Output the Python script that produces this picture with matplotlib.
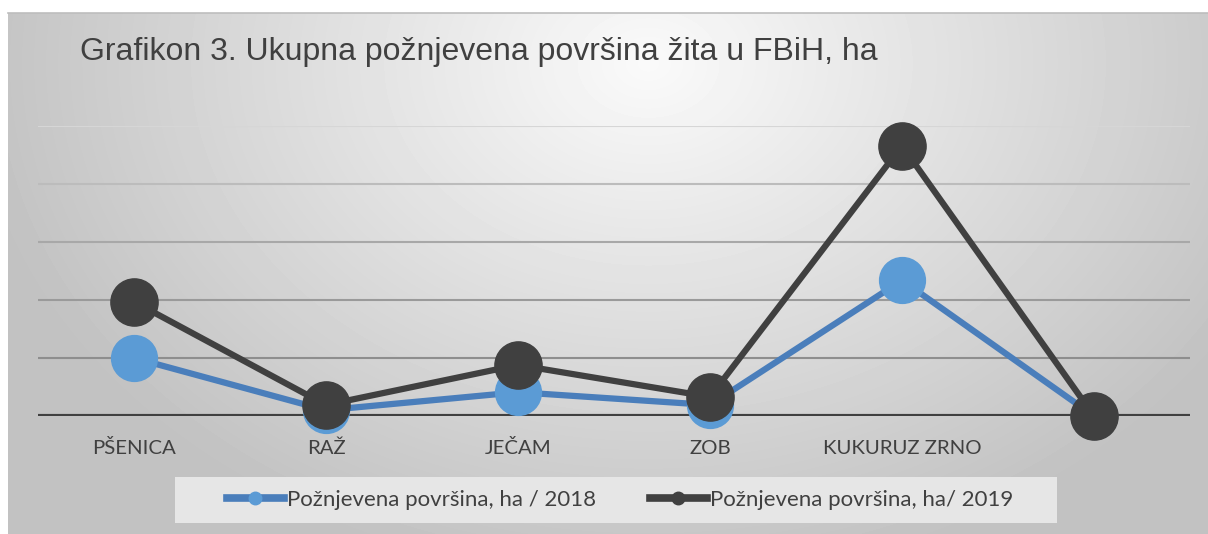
import numpy as np
import matplotlib
matplotlib.use("Agg")
import matplotlib.pyplot as plt
from matplotlib.lines import Line2D
from matplotlib.patches import Rectangle

# podaci (ha, procjena sa grafikona)
kategorije = ["PŠENICA", "RAŽ", "JEČAM", "ZOB", "KUKURUZ ZRNO", ""]
povrsina_2018 = [10000, 1000, 4100, 1900, 23400, 0]
povrsina_2019 = [19700, 1900, 8800, 3300, 46600, 0]
naslov = "Grafikon 3. Ukupna požnjevena površina žita u FBiH, ha"
legenda = ["Požnjevena površina, ha / 2018", "Požnjevena površina, ha/ 2019"]

W, H = 1208, 534
fig = plt.figure(figsize=(W / 100, H / 100), dpi=100)
fig.patch.set_facecolor("white")

# pozadina - radijalni gradijent
bg = fig.add_axes([8 / W, 0, 1 - 8 / W, (H - 13) / H])
yy, xx = np.mgrid[0:521, 0:1200]
d = np.sqrt(((xx - 640) / 680.0) ** 2 + ((yy - 50) / 520.0) ** 2)
d = np.clip(d, 0, 1)
shade = 0.98 - 0.22 * d
bg.imshow(shade, cmap="gray", vmin=0, vmax=1, aspect="auto", extent=[0, 1, 0, 1])
bg.set_xlim(0, 1)
bg.set_ylim(0, 1)
bg.axis("off")
fig.add_artist(Line2D([8 / W, 1], [(H - 13) / H] * 2, color="#bdbdbd", lw=1.2))

ax = fig.add_axes([38 / W, (H - 416) / H, 1152 / W, 290 / H])
ax.patch.set_alpha(0)
x = np.arange(len(kategorije))
ax.set_xlim(-0.5, len(kategorije) - 0.5)
ax.set_ylim(0, 50000)

grid_cols = ["#8e8e8e", "#9a9a9a", "#a8a8a8", "#bcbcbc", "#d6d6d6"]
for i, c in enumerate(grid_cols):
    ax.axhline((i + 1) * 10000, color=c, lw=1.5, zorder=1)
ax.axhline(0, color="#404040", lw=3, zorder=2)

ax.plot(x, povrsina_2018, color="#4a7ebb", lw=4.5, marker="o", ms=33,
        mfc="#5b9bd5", mec="#5b9bd5", zorder=3, clip_on=False)
ax.plot(x, povrsina_2019, color="#404040", lw=4.5, marker="o", ms=34,
        mfc="#404040", mec="#404040", zorder=4, clip_on=False)

ax.set_xticks(x)
ax.set_xticklabels(kategorije, fontsize=14.7, color="#404040", family="Lato")
for t in ax.get_xticklabels():
    t.set_va("baseline")
ax.tick_params(axis="x", length=0, pad=27)
ax.set_yticks([])
for s in ax.spines.values():
    s.set_visible(False)

fig.text(80 / W, 1 - 52 / H, naslov, fontsize=23, color="#404040",
         va="center", ha="left", family="Liberation Sans")

# okvir legende
fig.add_artist(Rectangle((175 / W, 1 - 523 / H), 882 / W, 46 / H,
                         transform=fig.transFigure, facecolor="#e6e6e6",
                         edgecolor="none", zorder=1))
h1 = Line2D([], [], color="#4a7ebb", lw=5.5, marker="o", ms=9, mfc="#5b9bd5", mec="#5b9bd5")
h2 = Line2D([], [], color="#404040", lw=5.5, marker="o", ms=9, mfc="#404040", mec="#404040")
leg = fig.legend([h1, h2], legenda, loc="center", bbox_to_anchor=(620 / W, 1 - 500 / H),
                 ncol=2, frameon=False, handlelength=2.56, handletextpad=0.13,
                 columnspacing=2.43, prop={"family": "Lato", "size": 16})
leg.set_zorder(5)
for t in leg.get_texts():
    t.set_color("#404040")

fig.savefig("out.png", dpi=100)
